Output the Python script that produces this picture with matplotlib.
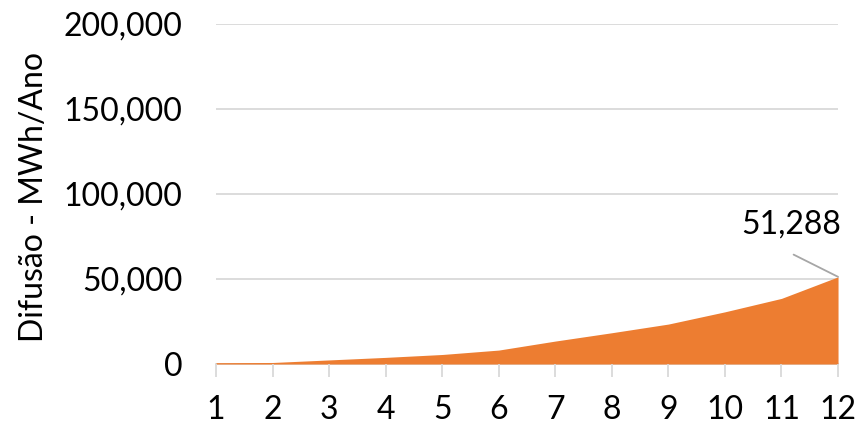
import matplotlib
matplotlib.use("Agg")
import matplotlib.pyplot as plt
from matplotlib.ticker import FuncFormatter

plt.rcParams['font.family'] = ['Lato', 'DejaVu Sans']

years = [1, 2, 3, 4, 5, 6, 7, 8, 9, 10, 11, 12]
difusao = [800, 900, 2400, 3900, 5600, 8200, 13500, 18400, 23500, 30700, 38600, 51288]
y_ticks = [0, 50000, 100000, 150000, 200000]
y_label = "Difusão - MWh/Ano"

fig = plt.figure(figsize=(8.59, 4.25), dpi=100)
ax = fig.add_axes([0.2515, 0.1435, 0.7241, 0.80])

orange = "#ED7D31"
grid_c = "#D9D9D9"

ax.fill_between(years, difusao, 0, color=orange, linewidth=0)
ax.set_xlim(years[0], years[-1])
ax.set_ylim(0, 200000)
ax.set_yticks(y_ticks)
ax.set_xticks(years)
ax.yaxis.set_major_formatter(FuncFormatter(lambda v, p: f"{int(v):,}"))

for v in y_ticks[1:]:
    ax.axhline(v, color=grid_c, linewidth=1.3, zorder=0)

for s in ["top", "right", "left"]:
    ax.spines[s].set_visible(False)
ax.spines["bottom"].set_color(grid_c)
ax.spines["bottom"].set_linewidth(1.3)
ax.spines["bottom"].set_zorder(0)

ax.tick_params(axis="y", length=0, pad=24, labelsize=23)
ax.tick_params(axis="x", length=9, width=1.3, color=grid_c, pad=13, labelsize=23)

ax.set_ylabel(y_label, fontsize=23)
ax.yaxis.set_label_coords(-0.268, 0.49)

# value label for the last point with a leader line
last_x, last_y = years[-1], difusao[-1]
ax.annotate("", xy=(last_x, last_y), xytext=(-32, 16),
            textcoords="offset points",
            arrowprops=dict(arrowstyle="-", color="#A6A6A6", lw=1.3,
                            shrinkA=0, shrinkB=0),
            annotation_clip=False)
ax.annotate(f"{last_y:,}", xy=(last_x, last_y), xytext=(-34, 27),
            textcoords="offset points", ha="center", va="bottom", fontsize=23,
            annotation_clip=False)

fig.savefig("out.png", dpi=100)
